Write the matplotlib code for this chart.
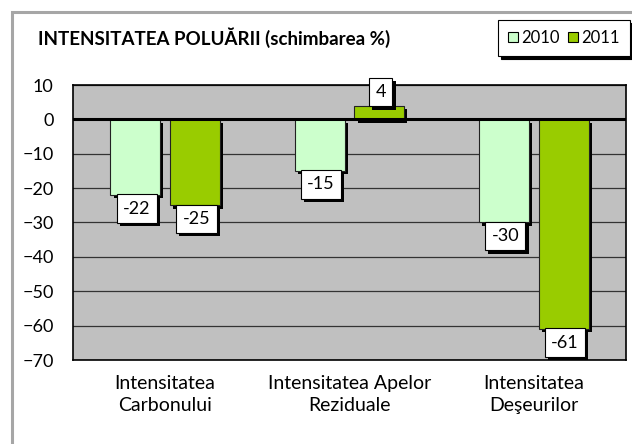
import numpy as np
import matplotlib.pyplot as plt
from matplotlib.patches import Rectangle, Patch
import matplotlib.patheffects as pe

plt.rcParams['font.family'] = ['Lato', 'DejaVu Sans']

categories = ["Intensitatea\nCarbonului", "Intensitatea Apelor\nReziduale", "Intensitatea\nDeşeurilor"]
years = ["2010", "2011"]
vals_2010 = [-22, -15, -30]
vals_2011 = [-25, 4, -61]
colors = ["#ccffcc", "#99cc00"]

fig = plt.figure(figsize=(6.32, 4.44), dpi=100)

# outer chart border (cut off on the right and bottom)
fig.patches.append(Rectangle((12/632, -0.2), 1.3, 1.2 - 12/444, transform=fig.transFigure,
                             facecolor="white", edgecolor="#a6a6a6", lw=2.2, zorder=-5))

ax = fig.add_axes([73/632, 84/444, 553/632, 275/444])
ax.set_facecolor("#c0c0c0")
for s in ax.spines.values():
    s.set_color("black")
    s.set_linewidth(1.2)

x = np.arange(len(categories))
w = 0.27
off = 0.162
shadow = [pe.SimplePatchShadow(offset=(2.3, -2.3), shadow_rgbFace="black", alpha=1), pe.Normal()]

for vals, dx, col in [(vals_2010, -off, colors[0]), (vals_2011, off, colors[1])]:
    bars = ax.bar(x + dx, vals, w, color=col, edgecolor="#222222", lw=0.8, zorder=3)
    for b, v in zip(bars, vals):
        b.set_path_effects(shadow)
        cx = b.get_x() + b.get_width() / 2
        if v < 0:
            t = ax.annotate(str(v), (cx, v), xytext=(1, -4), textcoords="offset points",
                            ha="center", va="top", fontsize=13, zorder=5)
        else:
            t = ax.annotate(str(v), (cx, v), xytext=(1, 4), textcoords="offset points",
                            ha="center", va="bottom", fontsize=13, zorder=5)
        t.set_bbox(dict(boxstyle="square,pad=0.35", facecolor="white", edgecolor="black", lw=0.8))
        t.get_bbox_patch().set_path_effects(shadow)

ax.set_ylim(-70, 10)
ax.set_xlim(-0.5, 2.5)
ax.set_yticks(range(-70, 11, 10))
ax.yaxis.grid(True, color="#333333", lw=0.9, zorder=1)
ax.set_axisbelow(True)
ax.axhline(0, color="black", lw=2.2, zorder=4)
ax.set_xticks(x)
ax.set_xticklabels(categories, fontsize=14, linespacing=1.35)
ax.tick_params(axis="both", length=0)
ax.tick_params(axis="y", pad=14, labelsize=13)
ax.tick_params(axis="x", pad=11)

fig.text(38/632, 1 - 38/444, "INTENSITATEA POLUĂRII (schimbarea %)", fontsize=13.5,
         fontweight="bold", va="center", ha="left")

handles = [Patch(facecolor=c, edgecolor="black", lw=0.8) for c in colors]
leg = fig.legend(handles, years, loc="upper left", bbox_to_anchor=(498/632, 1 - 20/444),
                 ncol=2, fontsize=12, frameon=True, fancybox=False, handlelength=0.6,
                 handleheight=0.6, handletextpad=0.2, columnspacing=0.5, borderaxespad=0,
                 borderpad=0.6,
                 shadow={"facecolor": "black", "edgecolor": "black", "alpha": 1})
leg.get_frame().set_edgecolor("black")
leg.get_frame().set_linewidth(0.8)

fig.savefig("out.png", dpi=100)
